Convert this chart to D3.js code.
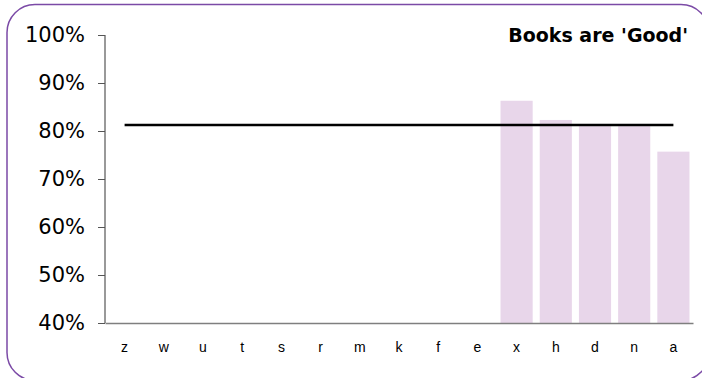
<!DOCTYPE html>
<html><head><meta charset="utf-8">
<script src="https://cdn.jsdelivr.net/npm/d3@7"></script>
<style>html,body{margin:0;padding:0;background:#fff;overflow:hidden}</style>
</head><body>
<svg id="c" width="702" height="378"></svg>
<script>
const categories = ["z","w","u","t","s","r","m","k","f","e","x","h","d","n","a"];
const values = [null,null,null,null,null,null,null,null,null,null,0.863,0.823,0.81,0.81,0.757];
const benchmark = 0.8125;
const yTicks = [0.4,0.5,0.6,0.7,0.8,0.9,1.0];
const title = "Books are 'Good'";

const svg = d3.select("#c");
svg.append("rect").attr("x",7).attr("y",4.5).attr("width",702).attr("height",376)
  .attr("rx",28).attr("fill","#fff").attr("stroke","#7b4aa6").attr("stroke-width",1.5);

const x = d3.scaleBand().domain(categories).range([105,693]).paddingInner(0.18).paddingOuter(0.09);
const y = d3.scaleLinear().domain([0.4,1.0]).range([323,35]);

svg.append("g").selectAll("rect").data(categories.map((c,i)=>({c,v:values[i]})).filter(d=>d.v!=null))
  .join("rect").attr("x",d=>x(d.c)).attr("width",x.bandwidth())
  .attr("y",d=>y(d.v)).attr("height",d=>y(0.4)-y(d.v)).attr("fill","#e8d6ea");

// x axis
const xa = svg.append("g").attr("transform","translate(0,323)")
  .call(d3.axisBottom(x).tickSize(0).tickPadding(19));
xa.select(".domain").attr("stroke","#7f7f7f").attr("stroke-width",1.5);
xa.selectAll("text").attr("font-family","'Liberation Sans',Arial,sans-serif").attr("font-size",14).attr("fill","#000");

// y axis
const ya = svg.append("g").attr("transform","translate(105,0)")
  .call(d3.axisLeft(y).tickValues(yTicks).tickFormat(d3.format(".0%")).tickSize(7).tickPadding(13));
ya.select(".domain").attr("stroke","#555").attr("stroke-width",1.2).attr("d","M0,35V323");
ya.selectAll("line").attr("stroke","#555");
ya.selectAll("text").attr("font-family","'DejaVu Sans',Verdana,sans-serif").attr("font-size",21).attr("fill","#000");

// benchmark line
svg.append("line")
  .attr("x1",x(categories[0])+x.bandwidth()/2).attr("x2",x(categories[categories.length-1])+x.bandwidth()/2)
  .attr("y1",y(benchmark)).attr("y2",y(benchmark)).attr("stroke","#000").attr("stroke-width",2.5);

svg.append("text").attr("x",688).attr("y",42).attr("text-anchor","end")
  .attr("font-family","'DejaVu Sans',Verdana,sans-serif").attr("font-weight","bold").attr("font-size",19)
  .text(title);
</script>
</body></html>
